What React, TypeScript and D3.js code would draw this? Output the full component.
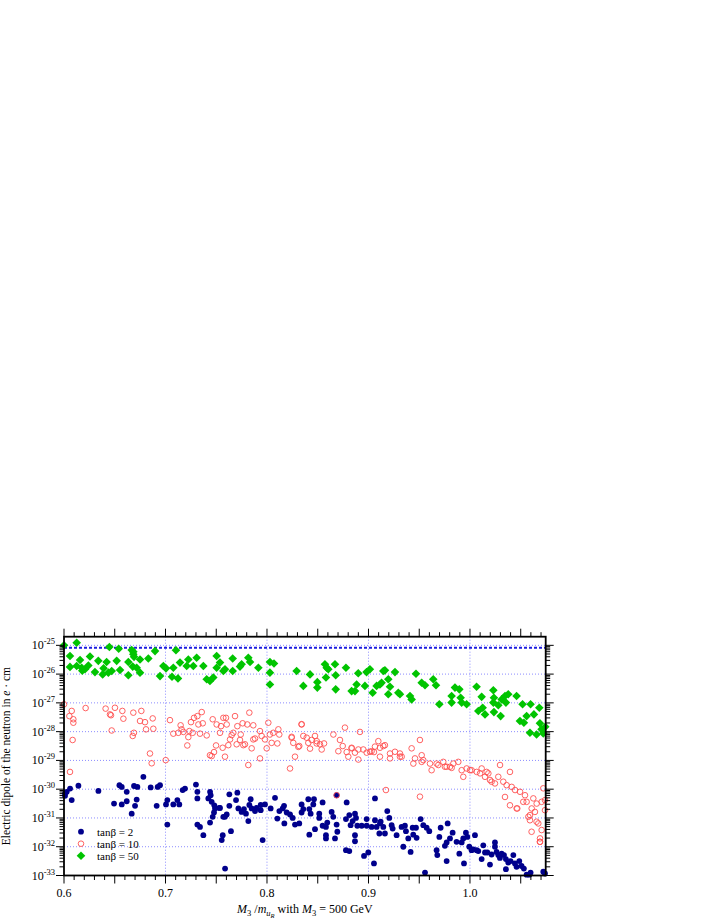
import React from 'react'
import * as d3 from 'd3'

// [M3/m_uR, log10(d_n in e·cm)]
const tan2: [number, number][] = [
  [0.6010, -30.15], [0.6027, -30.09], [0.6010, -30.23], [0.6060, -29.98], [0.6076, -30.38], [0.6142, -29.88],
  [0.6339, -30.06], [0.6493, -30.50], [0.6546, -29.86], [0.6569, -29.92], [0.6569, -30.53], [0.6618, -30.09],
  [0.6618, -30.42], [0.6667, -30.85], [0.6690, -29.89], [0.6723, -29.92], [0.6700, -30.58], [0.6716, -30.36],
  [0.6782, -29.57], [0.6854, -29.94], [0.6913, -30.58], [0.6923, -29.92], [0.6946, -29.86], [0.7005, -30.53],
  [0.7018, -30.38], [0.7018, -31.23], [0.7077, -30.53], [0.7117, -30.38], [0.7136, -30.53], [0.7169, -30.03],
  [0.7192, -29.98], [0.7300, -29.84], [0.7314, -30.09], [0.7314, -30.32], [0.7314, -31.23], [0.7340, -31.31],
  [0.7373, -31.60], [0.7422, -30.32], [0.7439, -30.09], [0.7445, -30.21], [0.7455, -30.44], [0.7481, -30.56],
  [0.7488, -30.67], [0.7478, -30.81], [0.7465, -30.96], [0.7439, -31.16], [0.7531, -30.65], [0.7570, -30.96],
  [0.7564, -31.60], [0.7554, -31.77], [0.7587, -32.76],
  [0.7537, -30.65], [0.7586, -30.96], [0.7603, -30.88], [0.7629, -30.18], [0.7629, -30.58], [0.7645, -31.46],
  [0.7695, -30.38], [0.7708, -30.12], [0.7718, -30.67], [0.7750, -30.79], [0.7773, -30.69], [0.7793, -30.85],
  [0.7816, -31.11], [0.7826, -30.55], [0.7839, -30.35], [0.7849, -30.67], [0.7882, -30.76], [0.7898, -30.65],
  [0.7938, -30.55], [0.7938, -30.73], [0.7957, -31.77], [0.7980, -30.53], [0.8036, -30.67], [0.8079, -30.30],
  [0.8102, -31.02], [0.8122, -30.76], [0.8155, -30.67], [0.8168, -30.58], [0.8171, -31.19], [0.8194, -30.81],
  [0.8227, -30.88], [0.8253, -31.00], [0.8276, -31.23], [0.8318, -31.19], [0.8341, -30.53], [0.8341, -30.81],
  [0.8358, -30.69], [0.8407, -30.35], [0.8417, -30.69], [0.8430, -30.85], [0.8417, -31.58], [0.8463, -30.35],
  [0.8456, -30.53], [0.8473, -31.39], [0.8515, -30.85], [0.8515, -31.00], [0.8548, -30.46], [0.8548, -31.27],
  [0.8581, -31.31], [0.8581, -31.60], [0.8581, -31.71], [0.8594, -31.16], [0.8637, -30.79], [0.8653, -30.96],
  [0.8670, -31.71], [0.8686, -31.23], [0.8693, -31.48], [0.8686, -30.21], [0.8785, -30.46], [0.8778, -31.04],
  [0.8778, -32.12], [0.8811, -30.90], [0.8811, -32.15], [0.8824, -31.25], [0.8844, -31.11], [0.8867, -30.85],
  [0.8877, -31.00], [0.8867, -31.60], [0.8867, -31.81], [0.8890, -31.27], [0.8933, -31.27], [0.8956, -32.32],
  [0.8982, -31.04], [0.8982, -31.27], [0.8998, -32.20], [0.9031, -31.31], [0.9054, -32.58], [0.9064, -31.08],
  [0.9064, -30.32], [0.9080, -31.31], [0.9107, -31.54], [0.9120, -31.13], [0.9146, -31.31],
  [0.9185, -30.76], [0.9113, -31.19], [0.9162, -31.54], [0.9205, -31.00], [0.9228, -31.25], [0.9238, -31.37],
  [0.9277, -31.60], [0.9326, -31.31], [0.9343, -32.00], [0.9359, -31.27], [0.9369, -31.46], [0.9392, -31.71],
  [0.9415, -32.18], [0.9435, -31.34], [0.9441, -31.58], [0.9468, -31.34], [0.9474, -31.69], [0.9514, -31.04],
  [0.9540, -31.25], [0.9557, -32.90], [0.9573, -31.34], [0.9599, -31.46], [0.9671, -32.12], [0.9678, -32.29],
  [0.9698, -31.66], [0.9711, -31.34], [0.9753, -31.97], [0.9770, -31.85], [0.9770, -32.50], [0.9780, -31.19],
  [0.9803, -31.71], [0.9829, -31.51], [0.9868, -31.83], [0.9895, -32.24], [0.9918, -31.85], [0.9934, -31.71],
  [0.9941, -32.58], [0.9960, -31.51], [0.9974, -31.66], [0.9993, -32.00], [1.0016, -32.12], [1.0033, -32.09],
  [1.0049, -31.60], [1.0066, -32.12], [1.0082, -32.15], [1.0115, -32.43], [1.0131, -31.95], [1.0148, -32.20],
  [1.0171, -32.20], [1.0197, -32.62], [1.0213, -32.27], [1.0246, -31.85], [1.0246, -32.00], [1.0262, -32.18],
  [1.0279, -32.29], [1.0295, -32.39], [1.0312, -32.24], [1.0335, -32.29], [1.0354, -32.43], [1.0354, -32.78],
  [1.0377, -32.55], [1.0400, -32.50], [1.0427, -32.29], [1.0443, -32.58], [1.0459, -32.70], [1.0486, -32.50],
  [1.0508, -32.67], [1.0531, -32.76], [1.0558, -32.97], [1.0584, -32.97], [1.0597, -32.90], [1.0722, -32.87],
  [1.0739, -32.93],
]

const tan10: [number, number][] = [
  [0.6000, -27.05], [0.6076, -27.28], [0.6053, -27.46], [0.6092, -27.57], [0.6092, -27.69], [0.6085, -28.29],
  [0.6213, -27.18], [0.6410, -27.20], [0.6453, -27.40], [0.6463, -27.43], [0.6502, -27.17], [0.6575, -27.28],
  [0.6585, -27.55], [0.6470, -27.96], [0.6683, -27.34], [0.6689, -28.04], [0.6677, -28.15], [0.6762, -27.28],
  [0.6749, -27.63], [0.6798, -27.67], [0.6808, -27.92], [0.6874, -27.54], [0.6880, -27.90], [0.6847, -28.76],
  [0.6864, -29.10], [0.6059, -29.40], [0.7002, -28.99],
  [0.7044, -27.60], [0.7149, -27.78], [0.7159, -27.92], [0.7077, -28.07], [0.7126, -28.04], [0.7176, -28.01],
  [0.7235, -27.98], [0.7225, -28.19], [0.7215, -28.48], [0.7251, -27.67], [0.7281, -27.52], [0.7314, -27.46],
  [0.7357, -27.32], [0.7324, -27.75], [0.7367, -27.71], [0.7268, -28.04], [0.7340, -28.07], [0.7406, -28.13],
  [0.7465, -27.57], [0.7504, -27.75], [0.7547, -27.81], [0.7498, -28.48], [0.7478, -28.71], [0.7455, -28.85],
  [0.7570, -27.52], [0.7537, -28.04], [0.7563, -28.56], [0.7438, -28.82], [0.7586, -28.87], [0.7619, -28.47],
  [0.7652, -28.12], [0.7734, -28.29], [0.7767, -28.47], [0.7816, -29.16], [0.7849, -28.58], [0.7882, -28.24],
  [0.7931, -28.93], [0.7997, -28.58], [0.8102, -28.41], [0.8227, -29.28], [0.8276, -28.87], [0.8309, -28.53],
  [0.7596, -27.52], [0.7685, -27.46], [0.7708, -27.81], [0.7826, -27.34], [0.7760, -27.71], [0.7806, -27.75],
  [0.7865, -27.78], [0.7603, -27.75], [0.7668, -28.04], [0.7741, -28.10], [0.7636, -28.27], [0.7701, -28.44],
  [0.7783, -28.44], [0.7865, -28.27], [0.7931, -27.98], [0.7947, -28.15], [0.7980, -28.27], [0.8013, -27.69],
  [0.8029, -28.10], [0.8046, -28.39], [0.8062, -28.04], [0.8112, -27.92], [0.8121, -28.10], [0.8243, -28.21],
  [0.8259, -28.39], [0.8341, -27.75], [0.8318, -28.50], [0.8358, -28.15], [0.8391, -28.21], [0.8407, -28.39],
  [0.8424, -28.59], [0.8473, -28.15], [0.8490, -28.33], [0.8522, -28.44], [0.8539, -28.62], [0.8562, -28.41],
  [0.8654, -28.10], [0.8703, -28.68], [0.8746, -28.50], [0.8768, -27.86], [0.8785, -28.71], [0.8834, -28.56],
  [0.8867, -28.73], [0.8916, -28.01], [0.8900, -28.62], [0.8949, -28.62], [0.8982, -28.73], [0.9031, -28.68],
  [0.9054, -28.71], [0.9097, -28.33], [0.9113, -28.56], [0.9146, -28.50],
  [0.8686, -30.21], [0.8801, -28.87], [0.8900, -28.97], [0.9015, -28.70], [0.9113, -28.87], [0.9172, -30.03],
  [0.9212, -28.76], [0.9261, -28.70], [0.9310, -28.76], [0.9327, -28.87], [0.9425, -28.58], [0.9458, -28.93],
  [0.9507, -28.29], [0.9507, -30.26], [0.9524, -28.82], [0.9540, -28.99], [0.9606, -29.11], [0.9622, -29.34],
  [0.9671, -29.11], [0.9737, -29.05], [0.9753, -29.22], [0.9803, -29.22], [0.9836, -29.11], [0.9885, -29.05],
  [0.9918, -29.34], [0.9934, -29.57], [0.9967, -29.28], [1.0016, -29.34], [1.0066, -29.40], [1.0099, -29.45],
  [1.0115, -29.28], [1.0148, -29.57], [1.0181, -29.45], [1.0197, -29.68], [1.0246, -29.80], [1.0279, -29.57],
  [1.0296, -29.16], [1.0328, -29.74], [1.0361, -29.86], [1.0394, -29.40], [1.0411, -29.92], [1.0444, -30.03],
  [1.0460, -30.67], [1.0493, -30.09], [1.0542, -30.21], [1.0558, -30.44], [1.0575, -30.96], [1.0591, -31.08],
  [1.0608, -30.67], [1.0624, -30.32], [1.0640, -30.79], [1.0657, -30.50], [1.0673, -31.19], [1.0690, -31.71],
  [1.0690, -31.83], [1.0706, -31.42], [1.0722, -29.97], [1.0739, -30.38], [1.0739, -30.73],
  [0.9212, -28.93], [0.9310, -28.87], [0.9442, -29.11], [0.9524, -29.05], [0.9688, -29.16], [0.9770, -29.22],
  [0.9819, -29.26], [1.0000, -29.34], [1.0164, -29.40], [1.0213, -29.74], [1.0345, -30.27], [1.0394, -30.56],
  [1.0466, -30.67], [1.0525, -30.44], [1.0591, -30.90], [1.0607, -31.48], [1.0656, -31.13], [1.0689, -31.83],
  [1.0706, -30.44], [0.8243, -28.18], [0.8341, -27.74], [0.8440, -28.29], [0.8489, -28.41], [0.8719, -28.29],
  [0.8834, -28.58], [0.9064, -28.52], [0.9162, -28.47],
]

const tan50: [number, number][] = [
  [0.6000, -25.00], [0.6125, -24.91], [0.6447, -25.06], [0.6539, -25.12], [0.6667, -25.16], [0.6683, -25.31],
  [0.6897, -25.20], [0.7103, -25.17], [0.6059, -25.37], [0.6158, -25.51], [0.6256, -25.39], [0.6338, -25.54],
  [0.6420, -25.58], [0.6519, -25.54], [0.6634, -25.58], [0.6749, -25.49], [0.6831, -25.46], [0.6059, -25.75],
  [0.6125, -25.72], [0.6174, -25.78], [0.6207, -25.83], [0.6240, -25.70], [0.6305, -25.93], [0.6381, -26.01],
  [0.6437, -25.95], [0.6470, -25.89], [0.6552, -25.86], [0.6634, -26.04], [0.6677, -25.74], [0.6716, -25.78],
  [0.6749, -25.95], [0.6946, -26.07], [0.6979, -25.72], [0.7005, -25.80], [0.7077, -25.78], [0.7064, -26.09],
  [0.7123, -26.15], [0.7143, -25.60], [0.7209, -25.72], [0.7225, -25.49], [0.7307, -25.43], [0.7274, -25.72],
  [0.7373, -25.72], [0.7406, -26.18], [0.7438, -26.24], [0.7471, -26.12], [0.7504, -25.37], [0.7504, -25.78],
  [0.7570, -25.89], [0.6683, -25.22], [0.6690, -25.40], [0.6180, -25.88], [0.6390, -25.80],
  [0.7537, -25.60], [0.7586, -25.83], [0.7662, -25.46], [0.7662, -25.89], [0.7734, -25.74], [0.7750, -25.66],
  [0.7816, -25.43], [0.7833, -25.58], [0.7915, -25.78], [0.8029, -25.58], [0.8029, -25.95], [0.8029, -26.36],
  [0.8069, -25.63], [0.8292, -25.89], [0.8358, -26.41], [0.8424, -26.01], [0.8496, -26.28], [0.8496, -26.47],
  [0.8571, -25.66], [0.8588, -25.78], [0.8604, -25.83], [0.8581, -26.12], [0.8670, -25.66], [0.8677, -26.04],
  [0.8677, -26.53], [0.8778, -25.78], [0.8834, -26.59], [0.8867, -26.59], [0.8883, -26.36], [0.8899, -25.97],
  [0.8965, -26.41], [0.8981, -25.93], [0.9014, -25.83], [0.9041, -26.65], [0.9080, -26.41], [0.9113, -26.36],
  [0.9146, -25.89],
  [0.9162, -25.87], [0.9261, -25.93], [0.9129, -26.30], [0.9195, -26.18], [0.9212, -26.44], [0.9195, -26.70],
  [0.9294, -26.65], [0.9310, -26.70], [0.9409, -26.76], [0.9425, -26.88], [0.9468, -25.99], [0.9524, -26.30],
  [0.9557, -26.39], [0.9638, -26.18], [0.9665, -26.39], [0.9698, -27.05], [0.9819, -26.76], [0.9819, -26.99],
  [0.9852, -26.47], [0.9895, -26.53], [0.9908, -26.82], [0.9918, -26.99], [0.9967, -27.05], [1.0065, -26.44],
  [1.0115, -26.79], [1.0082, -27.28], [1.0125, -27.17], [1.0148, -27.40], [1.0230, -26.56], [1.0236, -26.82],
  [1.0230, -26.99], [1.0236, -27.32], [1.0279, -27.08], [1.0302, -27.46], [1.0312, -26.88], [1.0345, -26.76],
  [1.0377, -26.70], [1.0354, -26.99], [1.0459, -26.76], [1.0518, -27.05], [1.0492, -27.63], [1.0531, -27.69],
  [1.0558, -27.46], [1.0591, -28.04], [1.0597, -27.05], [1.0630, -27.40], [1.0656, -28.10], [1.0683, -27.17],
  [1.0689, -27.71], [1.0705, -27.92], [1.0722, -28.06], [1.0742, -27.83],
]

const seriesNames = ['tanβ = 2', 'tanβ = 10', 'tanβ = 50']
const xTickLabels = [0.6, 0.7, 0.8, 0.9, 1.0]
const yDecades = [-33, -32, -31, -30, -29, -28, -27, -26, -25]
const expBound = -25.083 // blue dashed limit line

const BLUE = '#00008c'
const RED = '#ff5050'
const GREEN = '#00c400'
const GRID = '#8c8cff'
const FONT = '"Liberation Serif", "DejaVu Serif", serif'

const plot = { left: 64, right: 545.7, top: 636.7, bottom: 875.5 }

const Diamond = ({ x, y, r, fill }: { x: number; y: number; r: number; fill: string }) => (
  <path d={`M${x},${y - r}L${x + r},${y}L${x},${y + r}L${x - r},${y}Z`} fill={fill} />
)

export default function App() {
  const xScale = d3.scaleLinear().domain([0.6, 1.0746]).range([plot.left, plot.right])
  const yScale = d3.scaleLog().domain([1e-33, Math.pow(10, -24.7)]).range([plot.bottom, plot.top])
  const Y = (e: number) => yScale(Math.pow(10, e))

  // x ticks every 0.01, longer ones every 0.05
  const xMinor = d3.range(60, 108).map(v => v / 100)
  // y minor ticks 2..9 per decade
  const yMinor: number[] = []
  for (let d = -33; d < -24; d++) {
    for (let k = 2; k <= 9; k++) {
      const v = k * Math.pow(10, d)
      if (v <= Math.pow(10, -24.7)) yMinor.push(v)
    }
  }

  const legendY = [831.7, 843.7, 855.7]

  return (
    <svg width={711} height={920} style={{ position: 'absolute', left: 0, top: 0, background: '#fff' }}
      fontFamily={FONT}>
      <rect width={711} height={920} fill="#fff" />

      {/* grid */}
      <g stroke={GRID} strokeWidth={1} strokeDasharray="1,2">
        {yDecades.slice(1).map(d => (
          <line key={d} x1={plot.left} x2={plot.right} y1={Y(d)} y2={Y(d)} />
        ))}
        {xTickLabels.slice(1).map(v => (
          <line key={v} x1={xScale(v)} x2={xScale(v)} y1={plot.top} y2={plot.bottom} />
        ))}
      </g>
      <line x1={plot.left} x2={plot.right} y1={Y(expBound)} y2={Y(expBound)}
        stroke="#1c1ce0" strokeWidth={2} strokeDasharray="3,2" />

      {/* data */}
      <g fill={BLUE}>
        {tan2.map((d, i) => (
          <circle key={i} cx={xScale(d[0])} cy={Y(d[1])} r={2.9} />
        ))}
      </g>
      <g fill="none" stroke={RED} strokeWidth={0.9}>
        {tan10.map((d, i) => (
          <circle key={i} cx={xScale(d[0])} cy={Y(d[1])} r={2.8} />
        ))}
      </g>
      <g>
        {tan50.map((d, i) => (
          <Diamond key={i} x={xScale(d[0])} y={Y(d[1])} r={4.3} fill={GREEN} />
        ))}
      </g>

      {/* frame */}
      <rect x={plot.left} y={plot.top} width={plot.right - plot.left} height={plot.bottom - plot.top}
        fill="none" stroke="#000" strokeWidth={1.8} />

      {/* x ticks top and bottom */}
      <g stroke="#000" strokeWidth={1}>
        {xMinor.map(v => {
          const x = xScale(v)
          const big = Math.round(v * 100) % 5 === 0
          const len = big ? 8 : 4.5
          return (
            <g key={v}>
              <line x1={x} x2={x} y1={plot.top} y2={plot.top - len} />
              <line x1={x} x2={x} y1={plot.bottom} y2={plot.bottom + len} />
            </g>
          )
        })}
      </g>

      {/* y ticks left and right */}
      <g stroke="#000" strokeWidth={1}>
        {yDecades.map(d => (
          <g key={d}>
            <line x1={plot.left} x2={plot.left - 8} y1={Y(d)} y2={Y(d)} />
            <line x1={plot.right} x2={plot.right + 8} y1={Y(d)} y2={Y(d)} />
          </g>
        ))}
        {yMinor.map((v, i) => (
          <g key={i}>
            <line x1={plot.left} x2={plot.left - 4.5} y1={yScale(v)} y2={yScale(v)} />
            <line x1={plot.right} x2={plot.right + 4.5} y1={yScale(v)} y2={yScale(v)} />
          </g>
        ))}
      </g>

      {/* tick labels */}
      <g fontSize={12} fill="#000">
        {xTickLabels.map(v => (
          <text key={v} x={xScale(v)} y={897} textAnchor="middle">{v.toFixed(1)}</text>
        ))}
        {yDecades.map(d => (
          <text key={d} x={plot.left - 9} y={Y(d) + 4} textAnchor="end">
            10<tspan fontSize={8.5} dy={-5}>{String(d)}</tspan>
          </text>
        ))}
      </g>

      {/* axis titles */}
      <text transform={`translate(10,${(plot.top + plot.bottom) / 2}) rotate(-90)`} textAnchor="middle"
        fontSize={11.5} fill="#000">
        Electric dipole of the neutron in <tspan fontStyle="italic">e</tspan> · cm
      </text>
      <text x={(plot.left + plot.right) / 2} y={913} textAnchor="middle" fontSize={12} fill="#000">
        <tspan fontStyle="italic">M</tspan><tspan fontSize={8.5} dy={3}>3</tspan>
        <tspan dy={-3}> /</tspan><tspan fontStyle="italic">m</tspan>
        <tspan fontSize={8.5} fontStyle="italic" dy={3}>u</tspan>
        <tspan fontSize={6.5} fontStyle="italic" dy={2}>R</tspan>
        <tspan dy={-5}> with </tspan><tspan fontStyle="italic">M</tspan>
        <tspan fontSize={8.5} dy={3}>3</tspan><tspan dy={-3}> = 500 GeV</tspan>
      </text>

      {/* legend */}
      <g fontSize={11} fill="#000">
        <circle cx={81} cy={legendY[0]} r={2.9} fill={BLUE} />
        <circle cx={81} cy={legendY[1]} r={2.8} fill="none" stroke={RED} strokeWidth={0.9} />
        <Diamond x={81} y={legendY[2]} r={4.3} fill={GREEN} />
        {seriesNames.map((s, i) => (
          <text key={s} x={97} y={legendY[i] + 3.8}>{s}</text>
        ))}
      </g>
    </svg>
  )
}
